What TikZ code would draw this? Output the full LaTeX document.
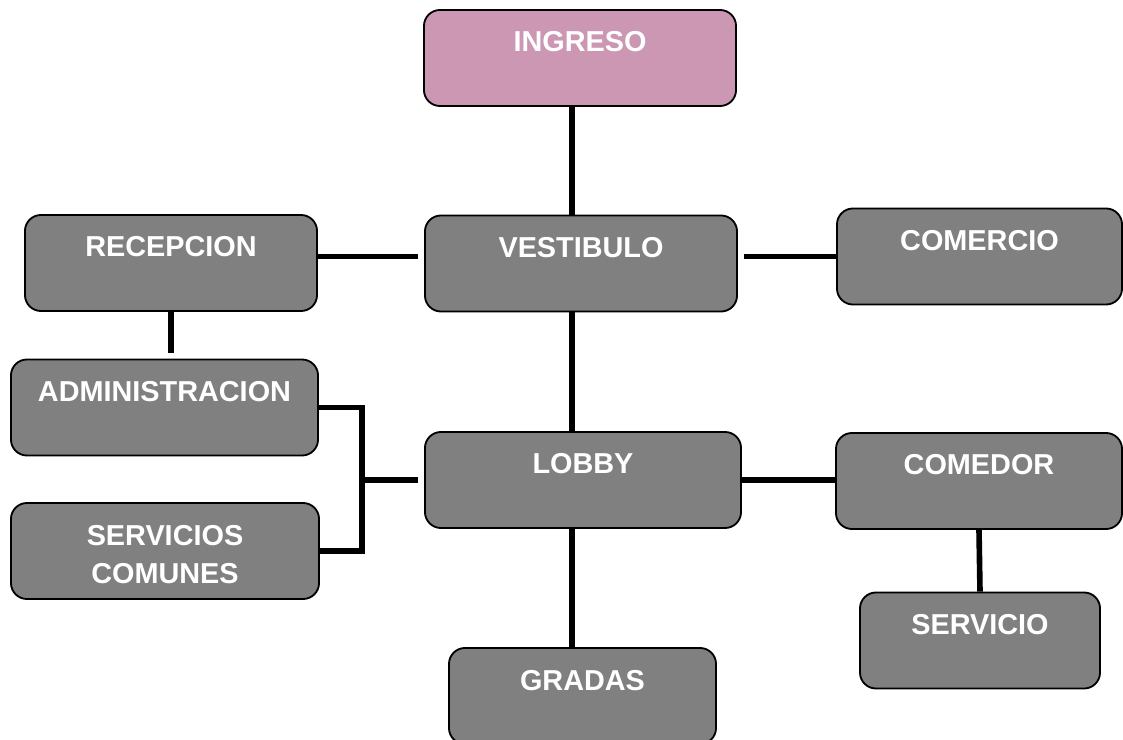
\documentclass[tikz,border=0pt]{standalone}
\usepackage{fontspec}
\setmainfont{Liberation Sans}
\usepackage{xcolor}
\definecolor{boxgray}{RGB}{128,128,128}
\definecolor{ingresopink}{RGB}{203,151,178}

\begin{document}
\begin{tikzpicture}[
    x=0.025cm, y=-0.025cm,
    box/.style={draw, line width=1.3pt, rounded corners=0.4cm, fill=#1, text=white, inner sep=0pt,
        minimum height=2.4cm, text height=1.05cm, text depth=1.35cm, align=center,
        font=\fontsize{20.5}{27}\selectfont\bfseries},
    link/.style={line width=4pt}
]
    \useasboundingbox (0,0) rectangle (1123,740);

    \node[box=ingresopink, minimum width=7.8cm]   (ingreso)   at (580,58)    {INGRESO};
    \node[box=boxgray, minimum width=7.3cm]       (recepcion) at (171,263)   {RECEPCION};
    \node[box=boxgray, minimum width=7.8cm]       (vestibulo) at (581,263.5) {VESTIBULO};
    \node[box=boxgray, minimum width=7.125cm]     (comercio)  at (979.5,256.5) {COMERCIO};
    \node[box=boxgray, minimum width=7.675cm]     (admin)     at (164.5,407.5) {ADMINISTRACION};
    \node[box=boxgray, minimum width=7.7cm, text height=2.0cm, text depth=0.4cm]
                                                  (servicios) at (165,551)   {SERVICIOS\\COMUNES};
    \node[box=boxgray, minimum width=7.9cm]       (lobby)     at (583,480)   {LOBBY};
    \node[box=boxgray, minimum width=7.15cm]      (comedor)   at (979,481)   {COMEDOR};
    \node[box=boxgray, minimum width=6.0cm]       (servicio)  at (980,640.5) {SERVICIO};
    \node[box=boxgray, minimum width=6.675cm]     (gradas)    at (582.5,696) {GRADAS};

    % main axis
    \coordinate (spine)   at (572,0);
    \coordinate (bracket) at (362,0);
    \draw[link] (ingreso.south -| spine) -- (vestibulo.north -| spine);
    \draw[link] (vestibulo.south -| spine) -- (lobby.north -| spine);
    \draw[link] (lobby.south -| spine) -- (gradas.north -| spine);

    % branches
    \draw[link, shorten >=4] (recepcion.east |- comercio.west) -- (vestibulo.west |- comercio.west);
    \draw[link, shorten <=4] (vestibulo.east |- comercio.west) -- (comercio.west);
    \draw[link, shorten >=4] (recepcion.south) -- (recepcion.south |- admin.north);
    \draw[link] (admin.east) -| (bracket |- servicios.east) -- (servicios.east);
    \draw[link, shorten >=4] (bracket |- lobby.west) -- (lobby.west);
    \draw[link] (lobby.east) -- (lobby.east -| comedor.west);
    \draw[link] (comedor.south) -- (servicio.north);
\end{tikzpicture}
\end{document}
